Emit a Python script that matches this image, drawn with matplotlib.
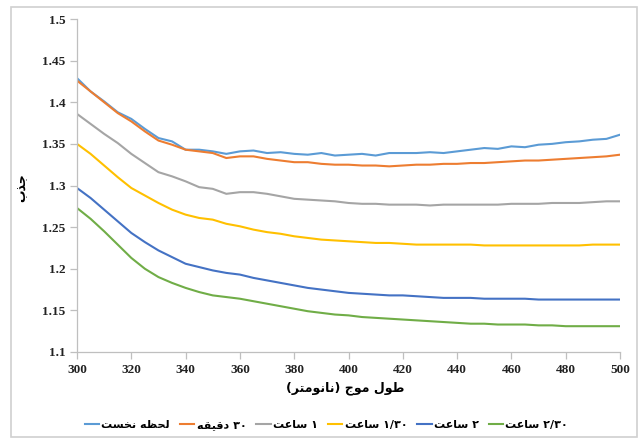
import re

import matplotlib
matplotlib.use('Agg')
import matplotlib.pyplot as plt
from matplotlib.patches import Rectangle
from matplotlib.ticker import MultipleLocator, FuncFormatter

# wavelength (nm)
wavelength = list(range(300, 501, 5))

first_moment = [1.429, 1.413, 1.401, 1.388, 1.380, 1.368, 1.357, 1.353, 1.343, 1.343,
                1.341, 1.338, 1.341, 1.342, 1.339, 1.340, 1.338, 1.337, 1.339, 1.336,
                1.337, 1.338, 1.336, 1.339, 1.339, 1.339, 1.340, 1.339, 1.341, 1.343,
                1.345, 1.344, 1.347, 1.346, 1.349, 1.350, 1.352, 1.353, 1.355, 1.356,
                1.361]
min_30 = [1.426, 1.413, 1.400, 1.387, 1.377, 1.365, 1.354, 1.349, 1.343, 1.341,
          1.339, 1.333, 1.335, 1.335, 1.332, 1.330, 1.328, 1.328, 1.326, 1.325,
          1.325, 1.324, 1.324, 1.323, 1.324, 1.325, 1.325, 1.326, 1.326, 1.327,
          1.327, 1.328, 1.329, 1.330, 1.330, 1.331, 1.332, 1.333, 1.334, 1.335,
          1.337]
hour_1 = [1.386, 1.374, 1.362, 1.351, 1.338, 1.327, 1.316, 1.311, 1.305, 1.298,
          1.296, 1.290, 1.292, 1.292, 1.290, 1.287, 1.284, 1.283, 1.282, 1.281,
          1.279, 1.278, 1.278, 1.277, 1.277, 1.277, 1.276, 1.277, 1.277, 1.277,
          1.277, 1.277, 1.278, 1.278, 1.278, 1.279, 1.279, 1.279, 1.280, 1.281,
          1.281]
hour_1_30 = [1.350, 1.338, 1.324, 1.310, 1.297, 1.288, 1.279, 1.271, 1.265, 1.261,
             1.259, 1.254, 1.251, 1.247, 1.244, 1.242, 1.239, 1.237, 1.235, 1.234,
             1.233, 1.232, 1.231, 1.231, 1.230, 1.229, 1.229, 1.229, 1.229, 1.229,
             1.228, 1.228, 1.228, 1.228, 1.228, 1.228, 1.228, 1.228, 1.229, 1.229,
             1.229]
hour_2 = [1.297, 1.285, 1.271, 1.257, 1.243, 1.232, 1.222, 1.214, 1.206, 1.202,
          1.198, 1.195, 1.193, 1.189, 1.186, 1.183, 1.180, 1.177, 1.175, 1.173,
          1.171, 1.170, 1.169, 1.168, 1.168, 1.167, 1.166, 1.165, 1.165, 1.165,
          1.164, 1.164, 1.164, 1.164, 1.163, 1.163, 1.163, 1.163, 1.163, 1.163,
          1.163]
hour_2_30 = [1.273, 1.260, 1.245, 1.229, 1.213, 1.200, 1.190, 1.183, 1.177, 1.172,
             1.168, 1.166, 1.164, 1.161, 1.158, 1.155, 1.152, 1.149, 1.147, 1.145,
             1.144, 1.142, 1.141, 1.140, 1.139, 1.138, 1.137, 1.136, 1.135, 1.134,
             1.134, 1.133, 1.133, 1.133, 1.132, 1.132, 1.131, 1.131, 1.131, 1.131,
             1.131]

labels = ['لحظه نخست', '۳۰ دقیقه', '۱ ساعت', '۱/۳۰ ساعت', '۲ ساعت', '۲/۳۰ ساعت']
colors = ['#5B9BD5', '#ED7D31', '#A5A5A5', '#FFC000', '#4472C4', '#70AD47']
xlabel = 'طول موج (نانومتر)'
ylabel = 'جذب'

# presentation forms: isolated, final, initial, medial
FORMS = {
    'ا': ('\uFE8D', '\uFE8E'),
    'ب': ('\uFE8F', '\uFE90', '\uFE91', '\uFE92'),
    'ت': ('\uFE95', '\uFE96', '\uFE97', '\uFE98'),
    'ج': ('\uFE9D', '\uFE9E', '\uFE9F', '\uFEA0'),
    'ح': ('\uFEA1', '\uFEA2', '\uFEA3', '\uFEA4'),
    'خ': ('\uFEA5', '\uFEA6', '\uFEA7', '\uFEA8'),
    'د': ('\uFEA9', '\uFEAA'),
    'ذ': ('\uFEAB', '\uFEAC'),
    'ر': ('\uFEAD', '\uFEAE'),
    'س': ('\uFEB1', '\uFEB2', '\uFEB3', '\uFEB4'),
    'ط': ('\uFEC1', '\uFEC2', '\uFEC3', '\uFEC4'),
    'ظ': ('\uFEC5', '\uFEC6', '\uFEC7', '\uFEC8'),
    'ع': ('\uFEC9', '\uFECA', '\uFECB', '\uFECC'),
    'ق': ('\uFED5', '\uFED6', '\uFED7', '\uFED8'),
    'ل': ('\uFEDD', '\uFEDE', '\uFEDF', '\uFEE0'),
    'م': ('\uFEE1', '\uFEE2', '\uFEE3', '\uFEE4'),
    'ن': ('\uFEE5', '\uFEE6', '\uFEE7', '\uFEE8'),
    'ه': ('\uFEE9', '\uFEEA', '\uFEEB', '\uFEEC'),
    'و': ('\uFEED', '\uFEEE'),
    'ی': ('\uFEEF', '\uFEF0', '\uFEF3', '\uFEF4'),
}


def rtl(text):
    out = []
    for i, ch in enumerate(text):
        if ch not in FORMS:
            out.append(ch)
            continue
        prev = text[i - 1] if i > 0 else ''
        nxt = text[i + 1] if i + 1 < len(text) else ''
        join_prev = prev in FORMS and len(FORMS[prev]) == 4
        join_next = len(FORMS[ch]) == 4 and nxt in FORMS
        f = FORMS[ch]
        if join_prev and join_next:
            out.append(f[3])
        elif join_prev:
            out.append(f[1])
        elif join_next:
            out.append(f[2])
        else:
            out.append(f[0])
    s = ''.join(out)[::-1]
    s = s.translate(str.maketrans('()', ')('))
    # digit runs keep their own order
    s = re.sub(r'[۰-۹/]+', lambda m: m.group(0)[::-1], s)
    return s


fa = dict(family='DejaVu Sans', fontweight='bold', fontsize=9)

plt.rcParams['font.family'] = 'Liberation Serif'
fig = plt.figure(figsize=(6.4, 4.38), dpi=100)
ax = fig.add_axes([77 / 640, 1 - 352 / 438, 543 / 640, 333 / 438])

series = [first_moment, min_30, hour_1, hour_1_30, hour_2, hour_2_30]
for vals, lab, c in zip(series, labels, colors):
    ax.plot(wavelength, vals, color=c, linewidth=1.5, label=rtl(lab))

ax.set_xlim(300, 500)
ax.set_ylim(1.1, 1.5)
ax.xaxis.set_major_locator(MultipleLocator(20))
ax.yaxis.set_major_locator(MultipleLocator(0.05))
ax.yaxis.set_major_formatter(FuncFormatter(lambda v, p: '%g' % round(v, 2)))
for s in ['top', 'right']:
    ax.spines[s].set_visible(False)
for s in ['left', 'bottom']:
    ax.spines[s].set_color('#BFBFBF')
    ax.spines[s].set_linewidth(0.9)
ax.tick_params(direction='out', length=5, width=0.9, color='#BFBFBF',
               labelsize=9.5, labelcolor='#222222')
for t in ax.get_xticklabels() + ax.get_yticklabels():
    t.set_fontweight('bold')

fig.text(0.54, 1 - 388 / 438, rtl(xlabel), ha='center', va='center', **fa)
fig.text(22 / 640, 1 - 188 / 438, rtl(ylabel), ha='center', va='center',
         rotation=90, **fa)

leg = fig.legend(loc='center', bbox_to_anchor=(0.51, 1 - 425 / 438), ncol=6,
                 frameon=False, handlelength=1.3, handletextpad=0.2,
                 columnspacing=0.9, prop=dict(family='DejaVu Sans', weight='bold', size=8))

fig.patches.append(Rectangle((11 / 640, 0.002), 626 / 640, 1 - 7 / 438 - 0.002,
                             transform=fig.transFigure, fill=False,
                             edgecolor='#D0D0D0', linewidth=1.2))

plt.savefig('out.png', dpi=100)
